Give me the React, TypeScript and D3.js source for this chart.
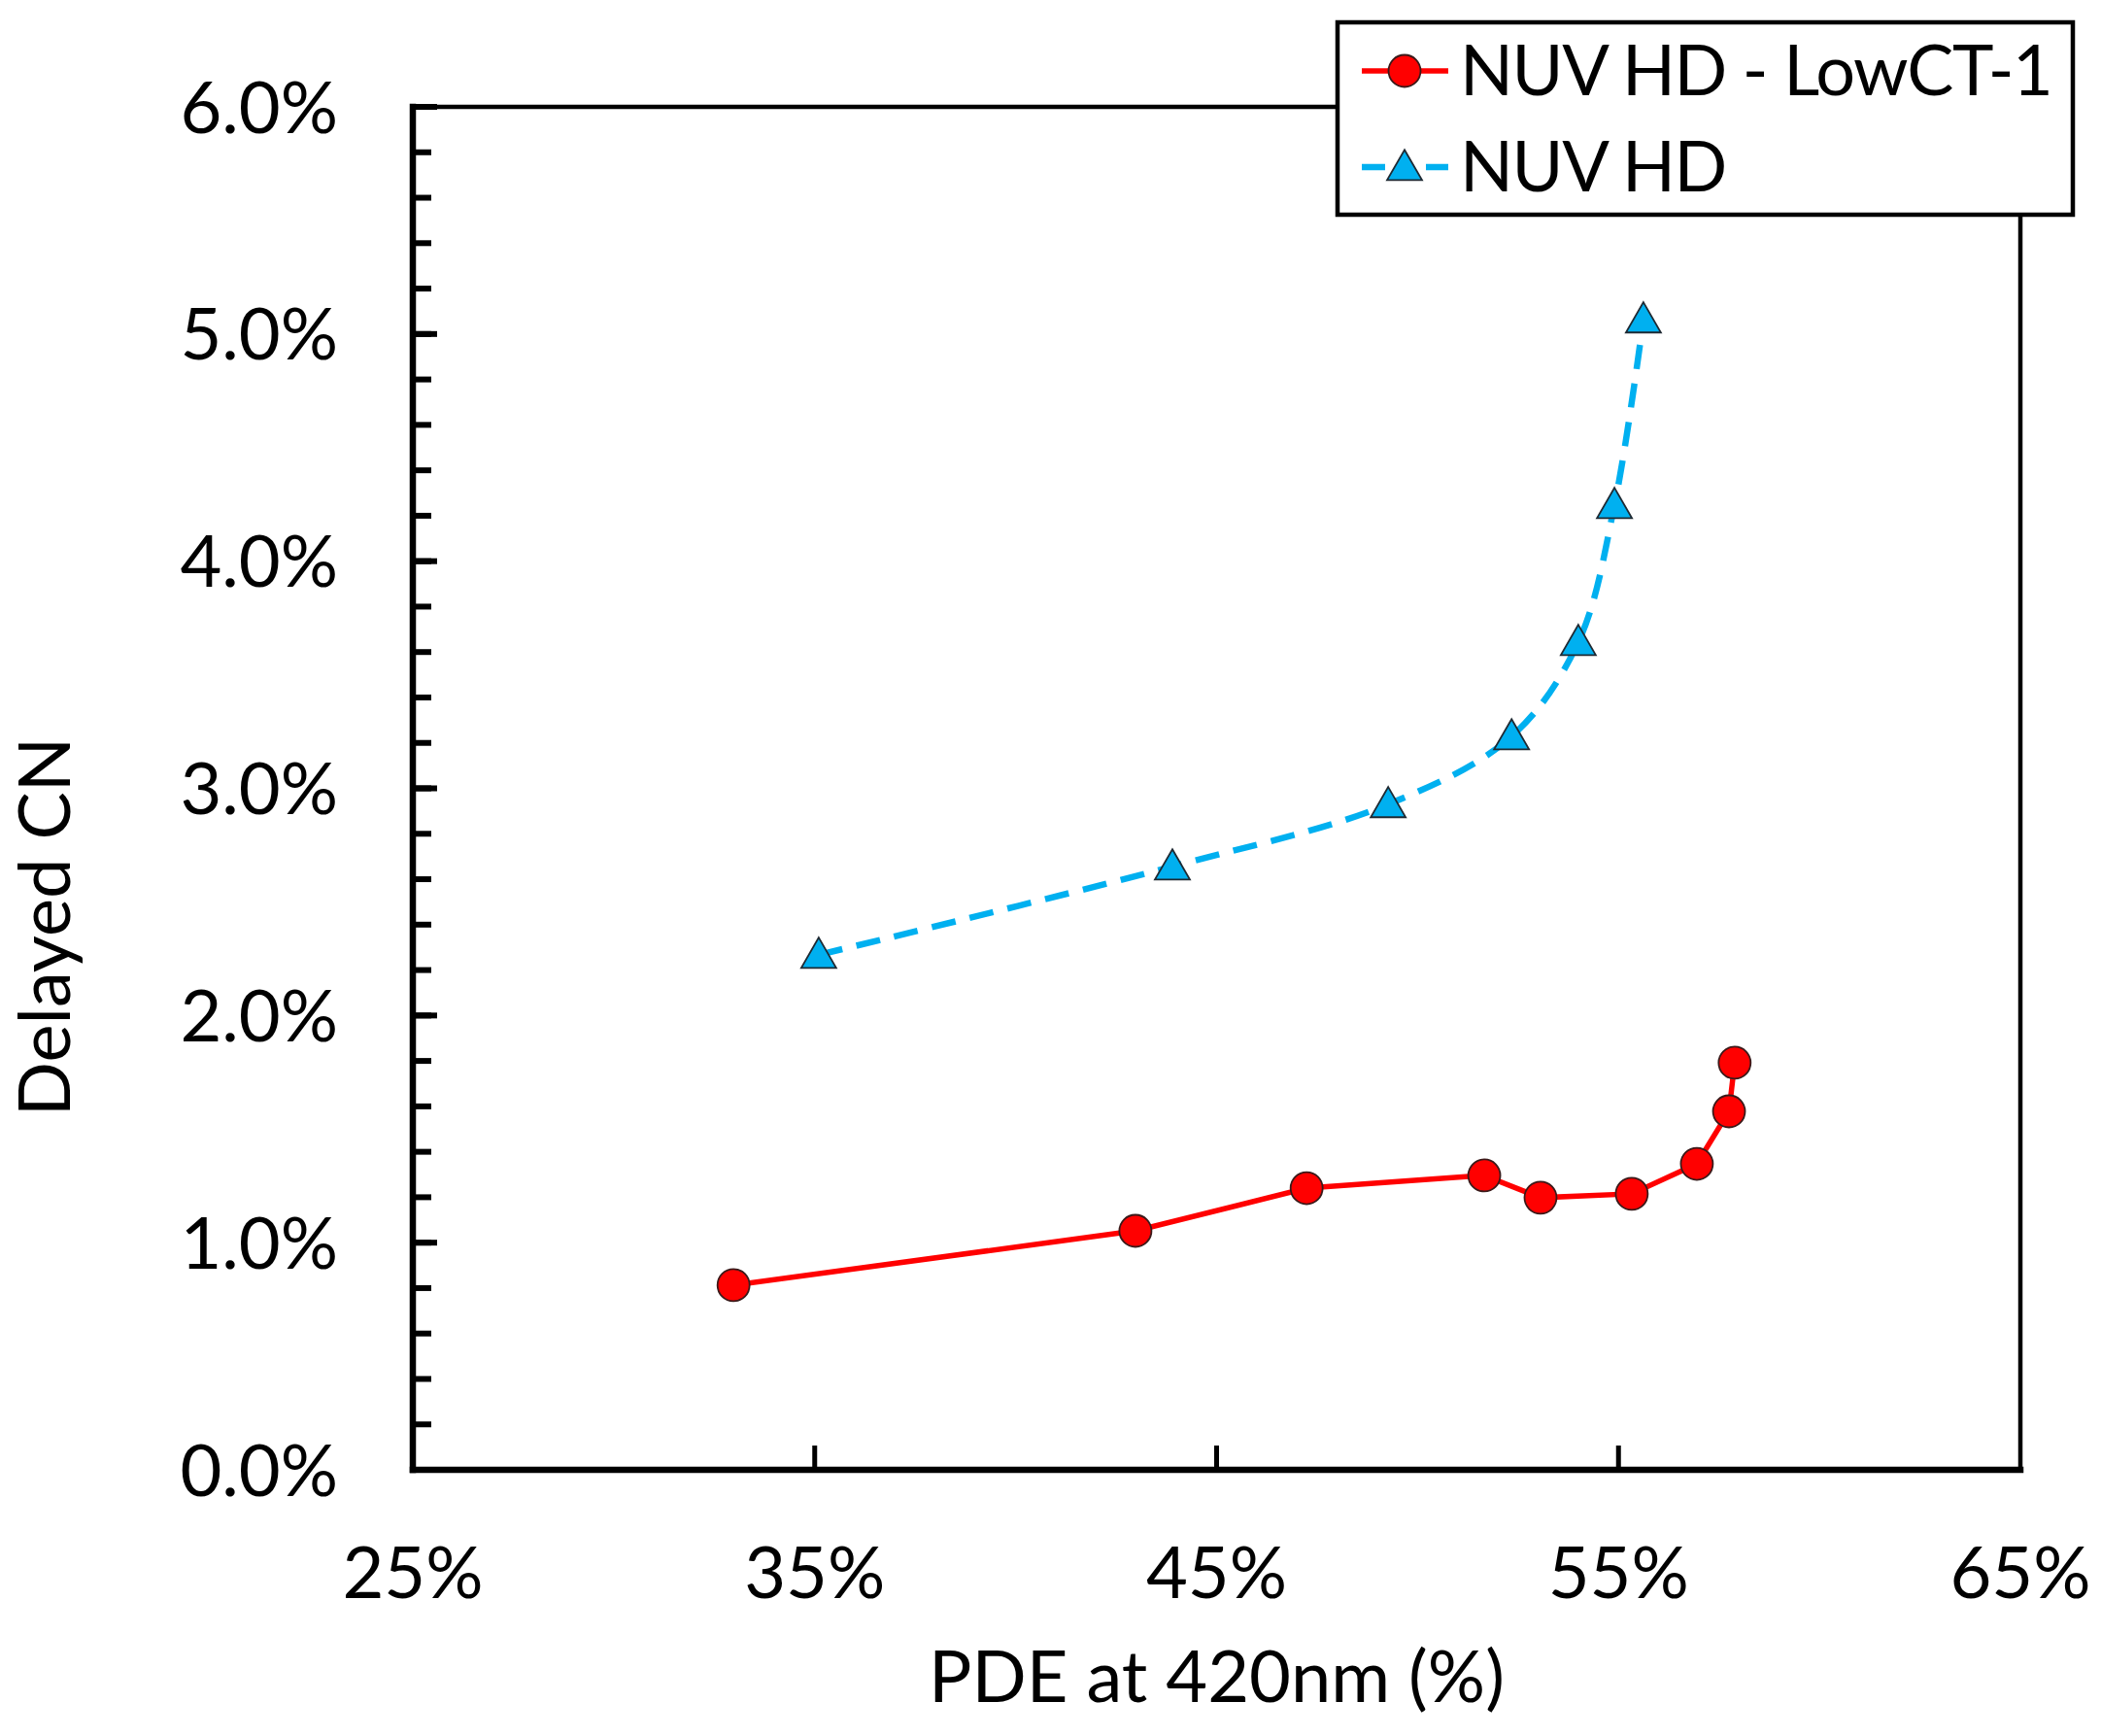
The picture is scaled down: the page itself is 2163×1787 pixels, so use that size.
import React, { useEffect, useRef } from "react";
import * as d3 from "d3";

// NUV HD - LowCT-1 (red circles)
const lowCtPde = [32.98, 42.98, 47.24, 51.66, 53.06, 55.33, 56.95, 57.75, 57.89];
const lowCtCn = [0.813, 1.052, 1.24, 1.296, 1.198, 1.215, 1.347, 1.578, 1.792];

// NUV HD (blue triangles)
const hdPde = [35.1, 43.9, 49.27, 52.34, 54.0, 54.9, 55.62];
const hdCn = [2.267, 2.656, 2.93, 3.229, 3.644, 4.247, 5.064];

const xTicks = [25, 35, 45, 55, 65];
const yTicks = [0, 1, 2, 3, 4, 5, 6];
const yMinorTicks = d3.range(0, 6.01, 0.2);

const seriesNames = ["NUV HD - LowCT-1", "NUV HD"];

const W = 2163;
const H = 1787;
const FONT = "Lato, 'Open Sans', sans-serif";

const App: React.FC = () => {
  const ref = useRef<SVGSVGElement | null>(null);

  useEffect(() => {
    if (!ref.current) return;
    const svg = d3.select(ref.current);
    svg.selectAll("*").remove();

    const margin = { top: 110, right: 83, bottom: 274, left: 425 };
    const x0 = margin.left;
    const x1 = W - margin.right;
    const y0 = H - margin.bottom;
    const y1 = margin.top;

    const x = d3.scaleLinear().domain([25, 65]).range([x0, x1]);
    const y = d3.scaleLinear().domain([0, 6]).range([y0, y1]);

    svg.append("rect").attr("width", W).attr("height", H).attr("fill", "#fff");

    // ticks
    svg
      .append("g")
      .selectAll("line")
      .data(yMinorTicks)
      .join("line")
      .attr("x1", x0)
      .attr("x2", x0 + 19)
      .attr("y1", (d) => y(d))
      .attr("y2", (d) => y(d))
      .attr("stroke", "#000")
      .attr("stroke-width", 6);

    svg
      .append("g")
      .selectAll("line")
      .data(yTicks)
      .join("line")
      .attr("x1", x0)
      .attr("x2", x0 + 25)
      .attr("y1", (d) => y(d))
      .attr("y2", (d) => y(d))
      .attr("stroke", "#000")
      .attr("stroke-width", 6);

    svg
      .append("g")
      .selectAll("line")
      .data(xTicks.slice(1, -1))
      .join("line")
      .attr("x1", (d) => x(d))
      .attr("x2", (d) => x(d))
      .attr("y1", y0)
      .attr("y2", y0 - 25)
      .attr("stroke", "#000")
      .attr("stroke-width", 5);

    // frame
    const frame = svg.append("g").attr("stroke", "#000").attr("stroke-linecap", "square");
    frame.append("line").attr("x1", x0).attr("x2", x1).attr("y1", y1).attr("y2", y1).attr("stroke-width", 4.5);
    frame.append("line").attr("x1", x1).attr("x2", x1).attr("y1", y1).attr("y2", y0).attr("stroke-width", 4.5);
    frame.append("line").attr("x1", x0).attr("x2", x0).attr("y1", y1).attr("y2", y0).attr("stroke-width", 6.5);
    frame.append("line").attr("x1", x0).attr("x2", x1).attr("y1", y0).attr("y2", y0).attr("stroke-width", 6.5);

    // tick labels
    svg
      .append("g")
      .selectAll("text")
      .data(yTicks)
      .join("text")
      .attr("x", 348)
      .attr("y", (d) => y(d))
      .attr("dy", "0.36em")
      .attr("text-anchor", "end")
      .attr("font-family", FONT)
      .attr("font-size", 74)
      .text((d) => d3.format(".1f")(d) + "%");

    svg
      .append("g")
      .selectAll("text")
      .data(xTicks)
      .join("text")
      .attr("x", (d) => x(d))
      .attr("y", 1645)
      .attr("text-anchor", "middle")
      .attr("font-family", FONT)
      .attr("font-size", 74)
      .text((d) => d + "%");

    // axis titles
    svg
      .append("text")
      .attr("x", (x0 + x1) / 2)
      .attr("y", 1752)
      .attr("text-anchor", "middle")
      .attr("font-family", FONT)
      .attr("font-size", 74)
      .text("PDE at 420nm (%)");

    svg
      .append("text")
      .attr("transform", "translate(72,954) rotate(-90)")
      .attr("text-anchor", "middle")
      .attr("font-family", FONT)
      .attr("font-size", 74)
      .text("Delayed CN");

    // series
    const red = lowCtPde.map((p, i) => [p, lowCtCn[i]] as [number, number]);
    const blue = hdPde.map((p, i) => [p, hdCn[i]] as [number, number]);

    const lineLin = d3
      .line<[number, number]>()
      .x((d) => x(d[0]))
      .y((d) => y(d[1]));
    const lineSmooth = d3
      .line<[number, number]>()
      .x((d) => x(d[0]))
      .y((d) => y(d[1]))
      .curve(d3.curveCatmullRom.alpha(0.5));

    svg
      .append("path")
      .attr("d", lineSmooth(blue))
      .attr("fill", "none")
      .attr("stroke", "#00B0F0")
      .attr("stroke-width", 6.5)
      .attr("stroke-dasharray", "25 15");

    svg
      .append("path")
      .attr("d", lineLin(red))
      .attr("fill", "none")
      .attr("stroke", "#FF0000")
      .attr("stroke-width", 5.5);

    const tri = d3.symbol().type(d3.symbolTriangle).size(560);

    svg
      .append("g")
      .selectAll("path")
      .data(blue)
      .join("path")
      .attr("d", tri)
      .attr("transform", (d) => `translate(${x(d[0])},${y(d[1]) + 3})`)
      .attr("fill", "#00B0F0")
      .attr("stroke", "#1f2a33")
      .attr("stroke-width", 1.8);

    svg
      .append("g")
      .selectAll("circle")
      .data(red)
      .join("circle")
      .attr("cx", (d) => x(d[0]))
      .attr("cy", (d) => y(d[1]))
      .attr("r", 16.5)
      .attr("fill", "#FF0000")
      .attr("stroke", "#3a1a1a")
      .attr("stroke-width", 1.8);

    // legend
    const lg = svg.append("g");
    lg.append("rect")
      .attr("x", 1377)
      .attr("y", 23)
      .attr("width", 757)
      .attr("height", 198)
      .attr("fill", "#fff")
      .attr("stroke", "#000")
      .attr("stroke-width", 4.5);

    const rows = [73, 172];
    lg.append("line")
      .attr("x1", 1402)
      .attr("x2", 1491)
      .attr("y1", rows[0])
      .attr("y2", rows[0])
      .attr("stroke", "#FF0000")
      .attr("stroke-width", 5.5);
    lg.append("circle")
      .attr("cx", 1446)
      .attr("cy", rows[0])
      .attr("r", 16.5)
      .attr("fill", "#FF0000")
      .attr("stroke", "#3a1a1a")
      .attr("stroke-width", 1.8);

    lg.append("line")
      .attr("x1", 1402)
      .attr("x2", 1491)
      .attr("y1", rows[1])
      .attr("y2", rows[1])
      .attr("stroke", "#00B0F0")
      .attr("stroke-width", 6.5)
      .attr("stroke-dasharray", "24 42 24");
    lg.append("path")
      .attr("d", tri)
      .attr("transform", `translate(1446,${rows[1] + 3})`)
      .attr("fill", "#00B0F0")
      .attr("stroke", "#1f2a33")
      .attr("stroke-width", 1.8);

    lg.selectAll("text.lbl")
      .data(seriesNames)
      .join("text")
      .attr("class", "lbl")
      .attr("x", 1503)
      .attr("y", (_d, i) => rows[i] + 25)
      .attr("font-family", FONT)
      .attr("font-size", 72)
      .attr("letter-spacing", -1.4)
      .text((d) => d);
  }, []);

  return (
    <svg
      ref={ref}
      width={W}
      height={H}
      style={{ position: "absolute", left: 0, top: 0, display: "block" }}
    />
  );
};

export default App;
